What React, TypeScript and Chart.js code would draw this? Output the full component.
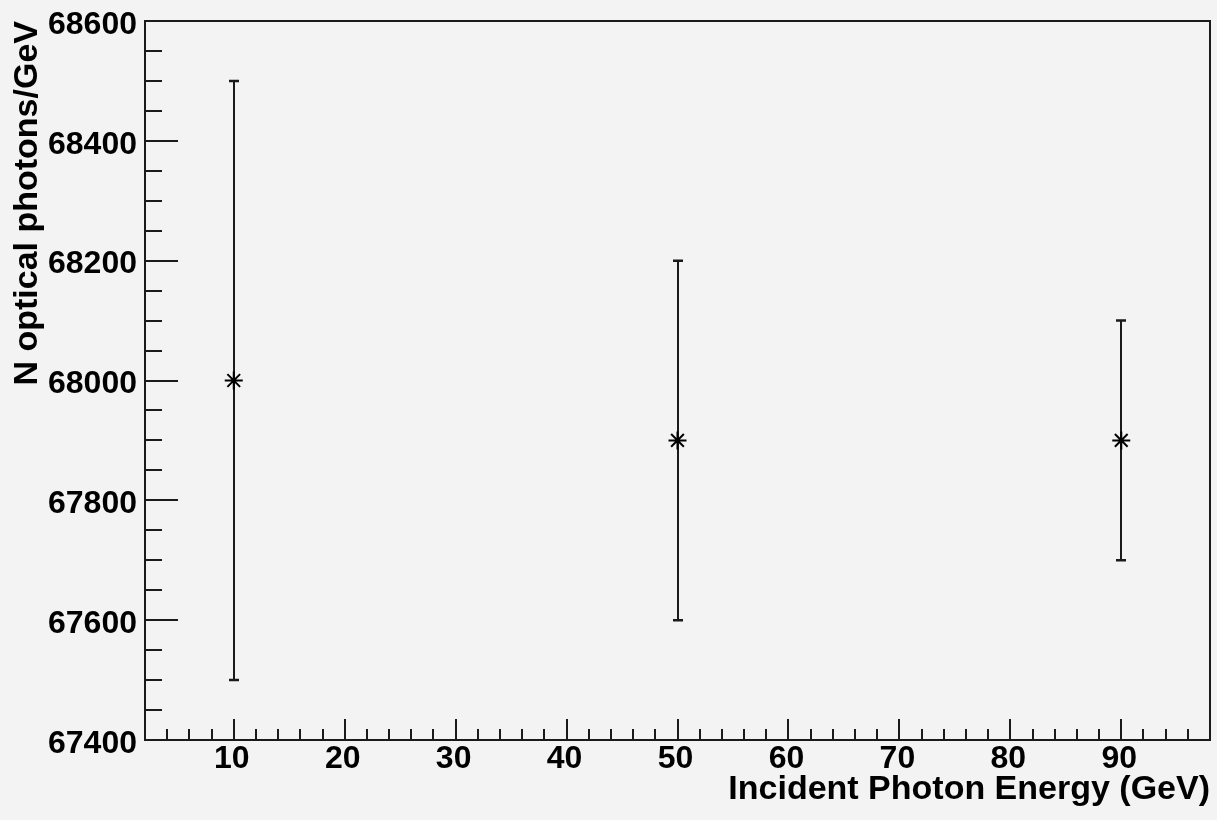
import { useEffect, useRef } from 'react';
import { Chart, registerables } from 'chart.js';

Chart.register(...registerables);

// ---- data ----
const energies = [10, 50, 90];
const photonsPerGeV = [68000, 67900, 67900];
const photonErrors = [500, 300, 200];

// ---- axes ----
const xTickLabels = [10, 20, 30, 40, 50, 60, 70, 80, 90];
const yTickLabels = [67400, 67600, 67800, 68000, 68200, 68400, 68600];
const X_MIN = 2;
const X_MAX = 98;
const Y_MIN = 67400;
const Y_MAX = 68600;
const X_MINOR_STEP = 2;
const Y_MINOR_STEP = 50;

const xTitle = 'Incident Photon Energy (GeV)';
const yTitle = 'N optical photons/GeV';

const BG = '#f3f3f3';
const INK = '#1a1a1a';
const FONT = "'Liberation Sans', Arial, Helvetica, sans-serif";

function minorValues(min: number, max: number, step: number, majors: number[]) {
  const out: number[] = [];
  for (let v = Math.ceil(min / step) * step; v <= max; v += step) {
    if (!majors.includes(v)) out.push(v);
  }
  return out;
}

const rootPlugin = {
  id: 'rootStyle',
  beforeDraw(chart: any) {
    const ctx = chart.ctx;
    ctx.save();
    ctx.fillStyle = BG;
    ctx.fillRect(0, 0, chart.width, chart.height);
    ctx.restore();
  },
  beforeDatasetsDraw(chart: any) {
    const ctx = chart.ctx;
    const xs = chart.scales.x;
    const ys = chart.scales.y;
    ctx.save();
    ctx.strokeStyle = INK;
    energies.forEach((e, i) => {
      const px = Math.round(xs.getPixelForValue(e));
      const top = ys.getPixelForValue(photonsPerGeV[i] + photonErrors[i]);
      const bot = ys.getPixelForValue(photonsPerGeV[i] - photonErrors[i]);
      ctx.lineWidth = 2;
      ctx.beginPath();
      ctx.moveTo(px, top);
      ctx.lineTo(px, bot);
      ctx.stroke();
      ctx.lineWidth = 2.5;
      ctx.beginPath();
      ctx.moveTo(px - 5, top);
      ctx.lineTo(px + 5, top);
      ctx.moveTo(px - 5, bot);
      ctx.lineTo(px + 5, bot);
      ctx.stroke();
    });
    ctx.restore();
  },
  afterDraw(chart: any) {
    const ctx = chart.ctx;
    const { left, top, right, bottom } = chart.chartArea;
    const xs = chart.scales.x;
    const ys = chart.scales.y;
    ctx.save();
    ctx.strokeStyle = INK;
    ctx.lineWidth = 2;
    ctx.beginPath();
    xTickLabels.forEach((v) => {
      const p = Math.round(xs.getPixelForValue(v));
      ctx.moveTo(p, bottom);
      ctx.lineTo(p, bottom - 21);
    });
    minorValues(X_MIN, X_MAX, X_MINOR_STEP, xTickLabels).forEach((v) => {
      const p = Math.round(xs.getPixelForValue(v));
      if (p <= left + 1 || p >= right - 1) return;
      ctx.moveTo(p, bottom);
      ctx.lineTo(p, bottom - 11);
    });
    yTickLabels.forEach((v) => {
      const p = Math.round(ys.getPixelForValue(v));
      ctx.moveTo(left, p);
      ctx.lineTo(left + 33, p);
    });
    minorValues(Y_MIN, Y_MAX, Y_MINOR_STEP, yTickLabels).forEach((v) => {
      const p = Math.round(ys.getPixelForValue(v));
      ctx.moveTo(left, p);
      ctx.lineTo(left + 17, p);
    });
    ctx.stroke();
    ctx.strokeRect(left, top, right - left, bottom - top);
    ctx.restore();
  },
};

export default function App() {
  const canvasRef = useRef<HTMLCanvasElement | null>(null);

  useEffect(() => {
    document.body.style.margin = '0';
    document.body.style.background = BG;
    const canvas = canvasRef.current;
    if (!canvas) return;
    const chart = new Chart(canvas, {
      type: 'scatter',
      data: {
        datasets: [
          {
            data: energies.map((e, i) => ({ x: e, y: photonsPerGeV[i] })),
            pointStyle: 'star',
            pointRadius: 9,
            pointHoverRadius: 9,
            borderColor: '#000',
            backgroundColor: '#000',
            pointBorderWidth: 2,
            showLine: false,
          },
        ],
      },
      options: {
        responsive: false,
        animation: false,
        events: [],
        layout: { autoPadding: false, padding: { top: 21, right: 7, left: 0, bottom: 0 } },
        plugins: {
          legend: { display: false },
          tooltip: { enabled: false },
        },
        scales: {
          x: {
            type: 'linear',
            position: 'bottom',
            min: X_MIN,
            max: X_MAX,
            afterBuildTicks: (scale: any) => {
              scale.ticks = xTickLabels.map((v) => ({ value: v }));
            },
            afterFit: (scale: any) => {
              scale.height = 80;
              scale.paddingLeft = 0;
              scale.paddingRight = 0;
              scale.paddingTop = 0;
              scale.paddingBottom = 0;
            },
            grid: { display: false, drawTicks: false },
            border: { display: false },
            ticks: {
              autoSkip: false,
              maxRotation: 0,
              padding: 0,
              labelOffset: -2,
              color: '#000',
              font: { family: FONT, size: 32, weight: 'bold', lineHeight: 1.2 },
              callback: (v: any) => String(v),
            },
            title: {
              display: true,
              text: xTitle,
              align: 'end',
              color: '#000',
              font: { family: FONT, size: 34, weight: 'bold', lineHeight: 1.2 },
              padding: { top: 0, bottom: 10 },
            },
          },
          y: {
            type: 'linear',
            position: 'left',
            min: Y_MIN,
            max: Y_MAX,
            afterBuildTicks: (scale: any) => {
              scale.ticks = yTickLabels.map((v) => ({ value: v }));
            },
            afterFit: (scale: any) => {
              scale.width = 145;
              scale.paddingLeft = 0;
              scale.paddingRight = 0;
              scale.paddingTop = 0;
              scale.paddingBottom = 0;
            },
            grid: { display: false, drawTicks: false },
            border: { display: false },
            ticks: {
              autoSkip: false,
              padding: 8,
              labelOffset: 4,
              color: '#000',
              font: { family: FONT, size: 32, weight: 'bold', lineHeight: 1.2 },
              callback: (v: any) => String(v),
            },
            title: {
              display: true,
              text: yTitle,
              align: 'end',
              color: '#000',
              font: { family: FONT, size: 34, weight: 'bold', lineHeight: 1.2 },
              padding: { top: 7, bottom: 0 },
            },
          },
        },
      },
      plugins: [rootPlugin],
    });
    return () => chart.destroy();
  }, []);

  return (
    <canvas
      ref={canvasRef}
      width={1217}
      height={820}
      style={{ display: 'block', width: 1217, height: 820 }}
    />
  );
}
